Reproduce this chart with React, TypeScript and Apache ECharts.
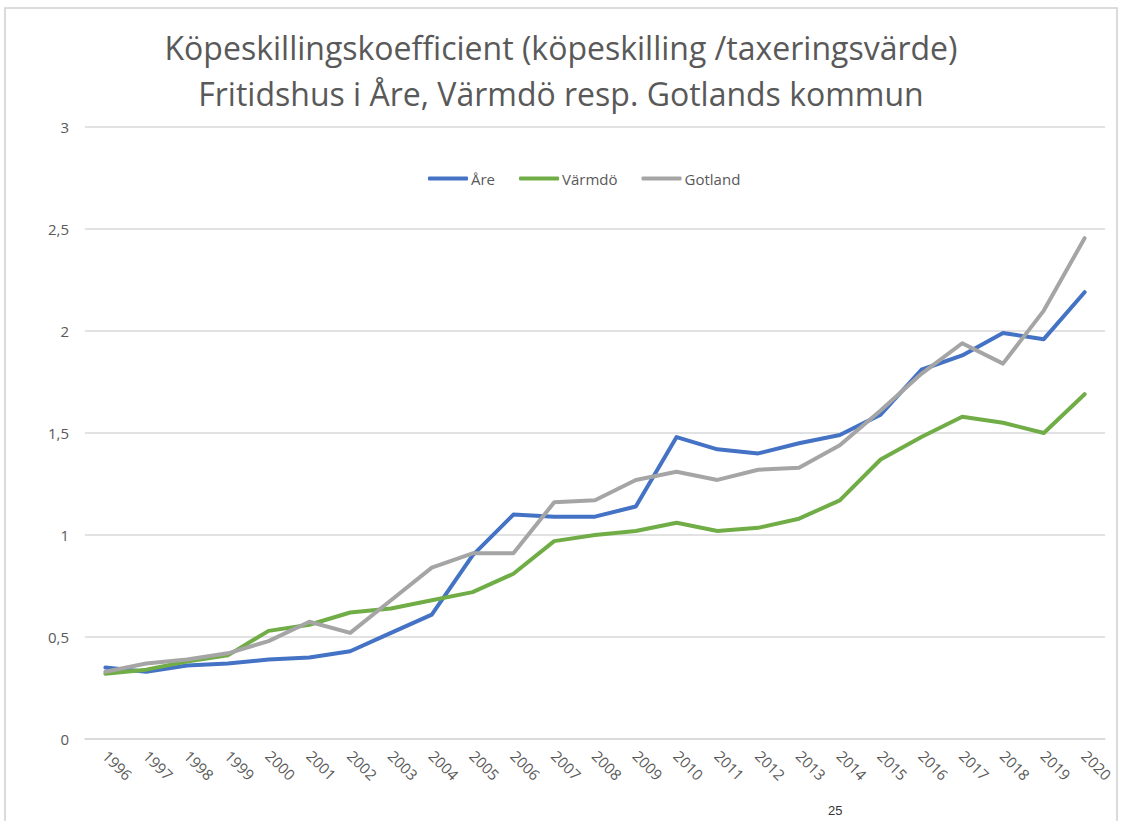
import React, { useEffect, useRef } from "react";
import * as echarts from "echarts";

const years = ["1996","1997","1998","1999","2000","2001","2002","2003","2004","2005","2006","2007","2008","2009","2010","2011","2012","2013","2014","2015","2016","2017","2018","2019","2020"];
const are = [0.35,0.33,0.36,0.37,0.39,0.40,0.43,0.52,0.61,0.90,1.10,1.09,1.09,1.14,1.48,1.42,1.40,1.45,1.49,1.59,1.81,1.88,1.99,1.96,2.19];
const varmdo = [0.32,0.34,0.38,0.41,0.53,0.56,0.62,0.64,0.68,0.72,0.81,0.97,1.00,1.02,1.06,1.02,1.035,1.08,1.17,1.37,1.48,1.58,1.55,1.50,1.69];
const gotland = [0.33,0.37,0.39,0.42,0.48,0.575,0.52,0.68,0.84,0.91,0.91,1.16,1.17,1.27,1.31,1.27,1.32,1.33,1.44,1.61,1.79,1.94,1.84,2.10,2.455];
const seriesNames = ["Åre", "Värmdö", "Gotland"];
const colors = ["#4472C4", "#70AD47", "#A5A5A5"];
const titleText = "Köpeskillingskoefficient (köpeskilling /taxeringsvärde)\nFritidshus i Åre, Värmdö resp. Gotlands kommun";
const pageNumber = "25";

export default function App() {
  const ref = useRef<HTMLDivElement>(null);
  useEffect(() => {
    document.body.style.margin = "0";
    const chart = echarts.init(ref.current!, null, { renderer: "svg" });
    const font = "'Open Sans', 'Noto Sans', sans-serif";
    const dataSets = [are, varmdo, gotland];
    chart.setOption({
      animation: false,
      backgroundColor: "#ffffff",
      color: colors,
      title: {
        text: titleText,
        left: "center",
        top: 19,
        textStyle: {
          fontFamily: font,
          fontSize: 32,
          fontWeight: "normal",
          color: "#595959",
          lineHeight: 46,
        },
      },
      legend: {
        top: 166,
        left: 423,
        itemWidth: 40,
        itemHeight: 4,
        itemGap: 24,
        icon: "roundRect",
        data: seriesNames,
        textStyle: { fontFamily: font, fontSize: 15, color: "#595959", padding: [0, 0, 0, -2] },
      },
      grid: { left: 85, right: 17, top: 127, bottom: 82 },
      xAxis: {
        type: "category",
        data: years,
        boundaryGap: true,
        axisLine: { show: true, lineStyle: { color: "#d9d9d9", width: 1.5 } },
        axisTick: { show: false },
        axisLabel: {
          rotate: -45,
          fontFamily: font,
          fontSize: 15,
          color: "#595959",
          margin: 14,
          interval: 0,
        },
      },
      yAxis: {
        type: "value",
        min: 0,
        max: 3,
        interval: 0.5,
        axisLine: { show: false },
        axisTick: { show: false },
        splitLine: { lineStyle: { color: "#d9d9d9", width: 1.5 } },
        axisLabel: {
          fontFamily: font,
          fontSize: 15,
          color: "#595959",
          margin: 16,
          formatter: (v: number) => String(v).replace(".", ","),
        },
      },
      series: seriesNames.map((name, i) => ({
        name,
        type: "line",
        data: dataSets[i],
        symbol: "none",
        showSymbol: false,
        lineStyle: { width: 4, color: colors[i], cap: "round", join: "round" },
        itemStyle: { color: colors[i] },
      })),
      graphic: [
        {
          type: "rect",
          shape: { x: 5, y: 8, width: 1112, height: 830 },
          style: { fill: "none", stroke: "#d0d0d0", lineWidth: 1.5 },
          silent: true,
        },
        {
          type: "text",
          x: 828,
          y: 804,
          style: { text: pageNumber, fontFamily: "'Liberation Sans', sans-serif", fontSize: 13, fill: "#333333" },
          silent: true,
        },
      ],
    });
    return () => chart.dispose();
  }, []);
  return <div ref={ref} style={{ width: 1122, height: 821 }} />;
}
